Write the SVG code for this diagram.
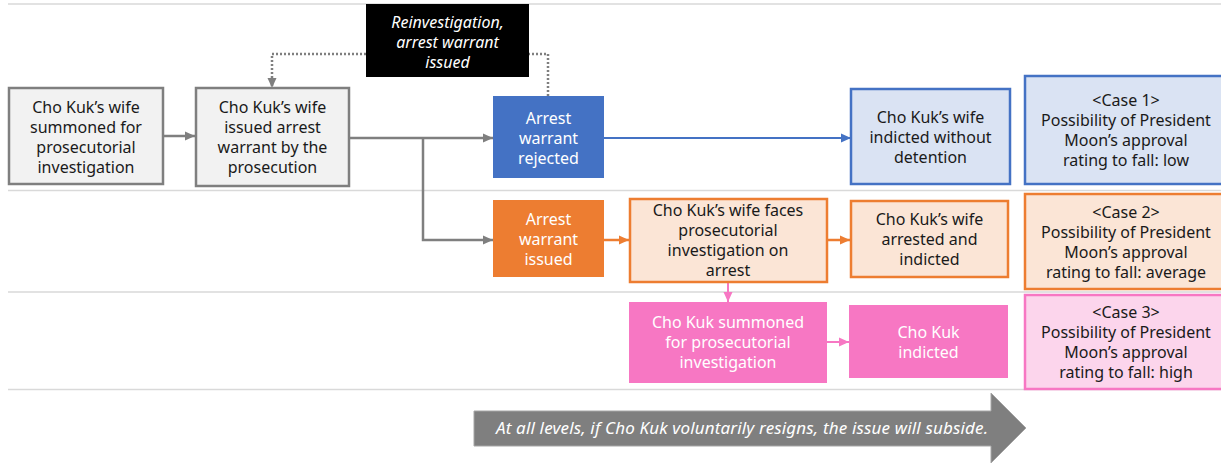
<svg xmlns="http://www.w3.org/2000/svg" width="1221" height="463" viewBox="0 0 1221 463">
<style>
text{font-family:"Noto Sans","Liberation Sans",sans-serif;font-size:16px;text-anchor:middle;fill:#1a1a1a}
.w{fill:#fff}
.it{font-style:italic}
.sep{stroke:#d9d9d9;stroke-width:1.5;fill:none}
.gray{fill:#f2f2f2;stroke:#7f7f7f;stroke-width:2.5}
.blue{fill:#4472c4}
.lblue{fill:#dae3f3;stroke:#4472c4;stroke-width:2.5}
.orange{fill:#ed7d31}
.lorange{fill:#fbe5d6;stroke:#ed7d31;stroke-width:2.5}
.pink{fill:#f777c3}
.lpink{fill:#fcd5ec;stroke:#f777c3;stroke-width:2.5}
.cg{stroke:#7f7f7f;stroke-width:2.5;fill:none}
.cb{stroke:#4472c4;stroke-width:2;fill:none}
.co{stroke:#ed7d31;stroke-width:2.5;fill:none}
.cp{stroke:#f777c3;stroke-width:2;fill:none}
</style>
<defs>
<marker id="ag" markerUnits="userSpaceOnUse" markerWidth="10" markerHeight="10" refX="10" refY="5" orient="auto"><path d="M0,0.5 L10,5 L0,9.5 z" fill="#7f7f7f"/></marker>
<marker id="ab" markerUnits="userSpaceOnUse" markerWidth="10" markerHeight="10" refX="10" refY="5" orient="auto"><path d="M0,0.5 L10,5 L0,9.5 z" fill="#4472c4"/></marker>
<marker id="ao" markerUnits="userSpaceOnUse" markerWidth="10" markerHeight="10" refX="10" refY="5" orient="auto"><path d="M0,0.5 L10,5 L0,9.5 z" fill="#ed7d31"/></marker>
<marker id="ap" markerUnits="userSpaceOnUse" markerWidth="10" markerHeight="10" refX="10" refY="5" orient="auto"><path d="M0,0.5 L10,5 L0,9.5 z" fill="#f777c3"/></marker>
</defs>
<rect width="1221" height="463" fill="#fff"/>
<g id="separators">
<line class="sep" x1="8" y1="4" x2="1221" y2="4"/>
<line class="sep" x1="8" y1="190.5" x2="1221" y2="190.5"/>
<line class="sep" x1="8" y1="292" x2="1221" y2="292"/>
<line class="sep" x1="8" y1="389.5" x2="1221" y2="389.5"/>
</g>
<g id="connectors">
<path class="cg" d="M163,136 H195" marker-end="url(#ag)"/>
<path class="cg" d="M350,138 H493" marker-end="url(#ag)"/>
<path class="cg" d="M423,138 V240 H493" marker-end="url(#ag)"/>
<path class="cg" d="M548,96 V54 H272 V88" stroke-width="2" stroke-dasharray="2 2" marker-end="url(#ag)"/>
<path class="cb" d="M604,138 H851" marker-end="url(#ab)"/>
<path class="co" d="M604,240 H629" marker-end="url(#ao)"/>
<path class="co" d="M827,240 H850" marker-end="url(#ao)"/>
<path class="cp" d="M728,282 V302" marker-end="url(#ap)"/>
<path class="cp" d="M827,342 H849" marker-end="url(#ap)"/>
</g>
<g id="n-summoned">
<rect class="gray" x="9" y="88" width="154" height="96"/>
<text x="86" y="113">Cho Kuk’s wife</text>
<text x="86" y="133">summoned for</text>
<text x="86" y="153">prosecutorial</text>
<text x="86" y="173">investigation</text>
</g>
<g id="n-warrant">
<rect class="gray" x="196" y="88" width="153" height="98"/>
<text x="272.5" y="113">Cho Kuk’s wife</text>
<text x="272.5" y="133">issued arrest</text>
<text x="272.5" y="153">warrant by the</text>
<text x="272.5" y="173">prosecution</text>
</g>
<g id="n-reinvestigation">
<rect x="366" y="4" width="163" height="73" fill="#000"/>
<text class="w it" x="447.5" y="28">Reinvestigation,</text>
<text class="w it" x="447.5" y="48">arrest warrant</text>
<text class="w it" x="447.5" y="68">issued</text>
</g>
<g id="n-rejected">
<rect class="blue" x="493" y="96" width="111" height="82"/>
<text class="w" x="548.5" y="124">Arrest</text>
<text class="w" x="548.5" y="144">warrant</text>
<text class="w" x="548.5" y="164">rejected</text>
</g>
<g id="n-indicted-nodetention">
<rect class="lblue" x="851" y="89" width="159" height="95"/>
<text x="930.5" y="123">Cho Kuk’s wife</text>
<text x="930.5" y="143">indicted without</text>
<text x="930.5" y="163">detention</text>
</g>
<g id="n-case1">
<rect class="lblue" x="1025" y="76" width="204" height="108"/>
<text x="1126" y="106">&lt;Case 1&gt;</text>
<text x="1126" y="126">Possibility of President</text>
<text x="1126" y="146">Moon’s approval</text>
<text x="1126" y="166">rating to fall: low</text>
</g>
<g id="n-issued">
<rect class="orange" x="493" y="200" width="111" height="77"/>
<text class="w" x="548.5" y="225">Arrest</text>
<text class="w" x="548.5" y="245">warrant</text>
<text class="w" x="548.5" y="265">issued</text>
</g>
<g id="n-faces">
<rect class="lorange" x="630" y="199" width="197" height="83"/>
<text x="728" y="216">Cho Kuk’s wife faces</text>
<text x="728" y="236">prosecutorial</text>
<text x="728" y="256">investigation on</text>
<text x="728" y="276">arrest</text>
</g>
<g id="n-arrested">
<rect class="lorange" x="851" y="201" width="157" height="76"/>
<text x="929.5" y="225">Cho Kuk’s wife</text>
<text x="929.5" y="245">arrested and</text>
<text x="929.5" y="265">indicted</text>
</g>
<g id="n-case2">
<rect class="lorange" x="1025" y="194" width="204" height="95"/>
<text x="1126" y="218">&lt;Case 2&gt;</text>
<text x="1126" y="238">Possibility of President</text>
<text x="1126" y="258">Moon’s approval</text>
<text x="1126" y="278">rating to fall: average</text>
</g>
<g id="n-chokuk-summoned">
<rect class="pink" x="629" y="302" width="198" height="81"/>
<text class="w" x="728" y="328">Cho Kuk summoned</text>
<text class="w" x="728" y="348">for prosecutorial</text>
<text class="w" x="728" y="368">investigation</text>
</g>
<g id="n-chokuk-indicted">
<rect class="pink" x="849" y="305" width="159" height="73"/>
<text class="w" x="928.5" y="338">Cho Kuk</text>
<text class="w" x="928.5" y="358">indicted</text>
</g>
<g id="n-case3">
<rect class="lpink" x="1025" y="295" width="204" height="94"/>
<text x="1126" y="318">&lt;Case 3&gt;</text>
<text x="1126" y="338">Possibility of President</text>
<text x="1126" y="358">Moon’s approval</text>
<text x="1126" y="378">rating to fall: high</text>
</g>
<g id="n-resign-arrow">
<path d="M474,411 H991 V393 L1026,428 L991,463 V446 H474 z" fill="#7f7f7f" stroke="#a6a6a6" stroke-width="1"/>
<text class="w it" x="742" y="434" style="font-size:17px" textLength="492">At all levels, if Cho Kuk voluntarily resigns, the issue will subside.</text>
</g>
</svg>
